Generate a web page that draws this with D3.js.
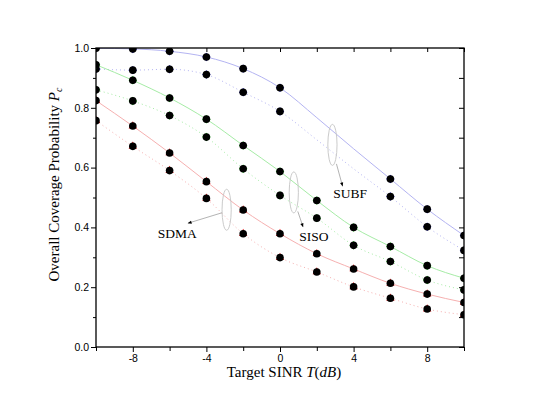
<!DOCTYPE html>
<html>
<head>
<meta charset="utf-8">
<script src="https://cdn.jsdelivr.net/npm/d3@7"></script>
<style>
  body { margin: 0; background: #fff; }
  .tick-label { font-family: "Liberation Sans", Arial, sans-serif; font-size: 10.5px; fill: #000; }
  .title { font-family: "Liberation Serif", "DejaVu Serif", serif; font-size: 15px; fill: #000; }
  .note { font-family: "Liberation Serif", "DejaVu Serif", serif; font-size: 13.5px; fill: #000; }
</style>
</head>
<body>
<div id="chart"></div>
<script>
//-- Data
var snr = [-10, -8, -6, -4, -2, 0, 2, 4, 6, 8, 10];
var subfSolid  = [0.999, 0.997, 0.989, 0.970, 0.931, 0.867, 0.767, 0.663, 0.562, 0.461, 0.373];
var subfDotted = [0.930, 0.926, 0.929, 0.911, 0.852, 0.788, 0.693, 0.596, 0.503, 0.402, 0.323];
var sisoSolid  = [0.944, 0.892, 0.833, 0.762, 0.674, 0.587, 0.490, 0.400, 0.336, 0.272, 0.230];
var sisoDotted = [0.860, 0.823, 0.774, 0.702, 0.596, 0.507, 0.431, 0.340, 0.286, 0.224, 0.191];
var sdmaSolid  = [0.824, 0.739, 0.649, 0.553, 0.458, 0.379, 0.312, 0.261, 0.213, 0.177, 0.149];
var sdmaDotted = [0.757, 0.671, 0.590, 0.497, 0.379, 0.299, 0.251, 0.201, 0.163, 0.127, 0.108];
var subfNoMarker = [2, 4];   // SUBF has no markers at these SNR values

var xMajor = [-8, -4, 0, 4, 8];
var xMinor = [-10, -6, -2, 2, 6, 10];
var yMajor = [0, 0.2, 0.4, 0.6, 0.8, 1.0];
var yMinor = [0.1, 0.3, 0.5, 0.7, 0.9];

//-- Dimension & margin
var totWidth = 539, totHeight = 417;
var margin = {top: 48, right: 75, bottom: 70, left: 96},
    width = totWidth - margin.left - margin.right,
    height = totHeight - margin.top - margin.bottom;

var svg = d3.select("#chart")
  .append("svg")
    .attr("width", totWidth)
    .attr("height", totHeight)
  .append("g")
    .attr("transform", "translate(" + margin.left + "," + margin.top + ")");

var x = d3.scaleLinear().domain([-10, 10]).range([0, width]);
var y = d3.scaleLinear().domain([0, 1]).range([height, 0]);

svg.append("clipPath").attr("id", "plotclip")
  .append("rect").attr("width", width).attr("height", height);

//-- Series
var series = [
  {name: "subf", vals: subfSolid,  color: "#b4b4f2", dash: null,  mark: "#2020c0", rot: 45},
  {name: "subf", vals: subfDotted, color: "#b4b4f2", dash: "1,3", mark: "#2020c0", rot: 45},
  {name: "siso", vals: sisoSolid,  color: "#a6eca6", dash: null,  mark: "#18d018", rot: 45},
  {name: "siso", vals: sisoDotted, color: "#a6eca6", dash: "1,3", mark: "#18d018", rot: 45},
  {name: "sdma", vals: sdmaSolid,  color: "#f6b0b0", dash: null,  mark: "#e01818", rot: 0},
  {name: "sdma", vals: sdmaDotted, color: "#f6b0b0", dash: "1,3", mark: "#e01818", rot: 0}
];

var plot = svg.append("g").attr("clip-path", "url(#plotclip)");

var line = d3.line()
  .x(function(d) { return x(d[0]); })
  .y(function(d) { return y(d[1]); })
  .curve(d3.curveMonotoneX);

series.forEach(function(s) {
  var pts = snr.map(function(v, i) { return [v, s.vals[i]]; });
  plot.append("path")
    .datum(pts)
    .attr("d", line)
    .attr("fill", "none")
    .attr("stroke", s.color)
    .attr("stroke-width", 1)
    .attr("stroke-dasharray", s.dash);
});

series.forEach(function(s) {
  var pts = snr.map(function(v, i) { return [v, s.vals[i]]; })
    .filter(function(d) { return !(s.name == "subf" && subfNoMarker.indexOf(d[0]) >= 0); });
  var g = plot.append("g");
  g.selectAll("path.cm")
    .data(pts)
    .enter().append("path")
      .attr("class", "cm")
      .attr("d", d3.symbol().type(s.rot ? d3.symbolSquare : d3.symbolTriangle).size(s.rot ? 36 : 30))
      .attr("transform", function(d) {
        return "translate(" + x(d[0]) + "," + y(d[1]) + ") rotate(" + s.rot + ")";
      })
      .attr("fill", s.mark);
  g.selectAll("circle")
    .data(pts)
    .enter().append("circle")
      .attr("cx", function(d) { return x(d[0]); })
      .attr("cy", function(d) { return y(d[1]); })
      .attr("r", 3.8)
      .attr("fill", "#000");
});

//-- Axes
var hyphenFmt = function(d) { return String(d); };

svg.append("g")
  .attr("transform", "translate(0," + height + ")")
  .call(d3.axisBottom(x).tickValues(xMajor).tickSize(5).tickSizeOuter(0).tickFormat(hyphenFmt))
  .call(function(g) { g.select(".domain").remove(); })
  .call(function(g) { g.selectAll("text").attr("class", "tick-label").attr("font-size", null).attr("font-family", null).attr("dy", "0.71em").attr("y", 8); });
svg.append("g")
  .attr("transform", "translate(0," + height + ")")
  .call(d3.axisBottom(x).tickValues(xMinor).tickSize(4).tickSizeOuter(0).tickFormat(""))
  .call(function(g) { g.select(".domain").remove(); });
svg.append("g")
  .call(d3.axisBottom(x).tickValues(xMajor.concat(xMinor)).tickSize(4).tickSizeOuter(0).tickFormat(""))
  .call(function(g) { g.select(".domain").remove(); });

svg.append("g")
  .call(d3.axisLeft(y).tickValues(yMajor).tickSize(5).tickSizeOuter(0).tickFormat(d3.format(".1f")))
  .call(function(g) { g.select(".domain").remove(); })
  .call(function(g) { g.selectAll("text").attr("class", "tick-label").attr("font-size", null).attr("font-family", null).attr("x", -7); });
svg.append("g")
  .call(d3.axisLeft(y).tickValues(yMinor).tickSize(3).tickSizeOuter(0).tickFormat(""))
  .call(function(g) { g.select(".domain").remove(); });
svg.append("g")
  .attr("transform", "translate(" + width + ",0)")
  .call(d3.axisLeft(y).tickValues(yMajor.concat(yMinor)).tickSize(5).tickSizeOuter(0).tickFormat(""))
  .call(function(g) { g.select(".domain").remove(); });

//-- Frame
svg.append("rect")
  .attr("width", width).attr("height", height)
  .attr("fill", "none").attr("stroke", "#000").attr("stroke-width", 1.3);

//-- Axis titles
var xt = svg.append("text").attr("class", "title")
  .attr("x", width / 2 + 4).attr("y", height + 30).attr("text-anchor", "middle");
xt.append("tspan").text("Target SINR ");
xt.append("tspan").attr("font-style", "italic").text("T");
xt.append("tspan").text("(");
xt.append("tspan").attr("font-style", "italic").text("dB");
xt.append("tspan").text(")");

var yt = svg.append("text").attr("class", "title")
  .attr("text-anchor", "middle")
  .attr("transform", "translate(-37," + (height / 2 - 13) + ") rotate(-90)");
yt.append("tspan").text("Overall Coverage Probability ");
yt.append("tspan").attr("font-style", "italic").text("P");
yt.append("tspan").attr("font-size", "10px").attr("font-style", "italic").attr("dy", 3).text("c");

//-- Annotations (ellipse + arrow + label), placed in data units
var notes = [
  {label: "SDMA", cx: -2.9, cy: 0.459, tx: -5.0, ty: 0.414, lx: -6.65, ly: 0.364, from: "left"},
  {label: "SISO", cx: 0.75, cy: 0.517, tx: 1.25, ty: 0.402, lx: 1.05, ly: 0.354, from: "bottom"},
  {label: "SUBF", cx: 2.85, cy: 0.676, tx: 3.4,  ty: 0.538, lx: 2.9,  ly: 0.500, from: "bottom"}
];

svg.append("defs").append("marker")
  .attr("id", "arrowhead")
  .attr("viewBox", "0 0 10 10").attr("refX", 9).attr("refY", 5)
  .attr("markerWidth", 7).attr("markerHeight", 5).attr("orient", "auto")
  .append("path").attr("d", "M0,1L10,5L0,9z").attr("fill", "#000");

notes.forEach(function(n) {
  var ex = x(n.cx), ey = y(n.cy);
  svg.append("ellipse")
    .attr("cx", ex).attr("cy", ey).attr("rx", 4.6).attr("ry", 20.5)
    .attr("fill", "none").attr("stroke", "#c4c4c4").attr("stroke-width", 0.9);
  var sx = n.from == "left" ? ex - 4.6 : ex + 4;
  var sy = n.from == "left" ? ey + 3 : ey + 19;
  svg.append("line")
    .attr("x1", sx).attr("y1", sy)
    .attr("x2", x(n.tx)).attr("y2", y(n.ty))
    .attr("stroke", "#a0a0a0").attr("stroke-width", 0.8)
    .attr("marker-end", "url(#arrowhead)");
  svg.append("text").attr("class", "note")
    .attr("x", x(n.lx)).attr("y", y(n.ly))
    .text(n.label);
});
</script>
</body>
</html>
